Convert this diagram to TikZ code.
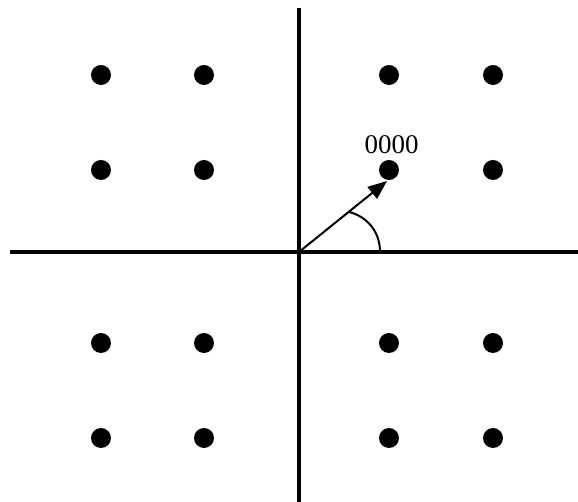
\documentclass[tikz,border=0pt]{standalone}
\usepackage{fontspec}
\setmainfont{Liberation Serif}
\usetikzlibrary{arrows.meta,calc}
\tikzset{
  axis/.style={line width=3.2pt, black},
  vec/.style={-{Triangle[length=19pt,width=15pt]}, line width=2pt},
  angarc/.style={line width=2pt},
  sym/.style={circle, fill=black, minimum width=20pt, minimum height=18pt, inner sep=0pt},
  lbl/.style={font=\fontsize{27}{27}\selectfont},
}

\begin{document}
\begin{tikzpicture}[x=1pt,y=1pt]
\useasboundingbox (-299,-250) rectangle (279,252);
\coordinate (o) at (0,0);
\coordinate (xl) at (-289,0);
\coordinate (xr) at (279,0);
\coordinate (yt) at (0,244);
\coordinate (yb) at (0,-250);
\draw[axis] (xl) -- (xr);
\draw[axis] (yt) -- (yb);
% constellation points
\foreach \px/\i in {-198/1,-95/2,90/3,194/4}
  \foreach \py/\j in {177/1,82/2,-91/3,-186/4}
    \node[sym] (s\i\j) at (\px,\py) {};
\node[lbl] (l0) at (92.5,107) {0000};
\coordinate (tip) at (88,71);
\draw[vec] (o) -- (tip);
\coordinate (a1) at ($(o)!64pt!(tip)$);
\coordinate (a2) at (81,0);
\draw[angarc] (a1) to[out=-15,in=90] (a2);
\end{tikzpicture}
\end{document}
